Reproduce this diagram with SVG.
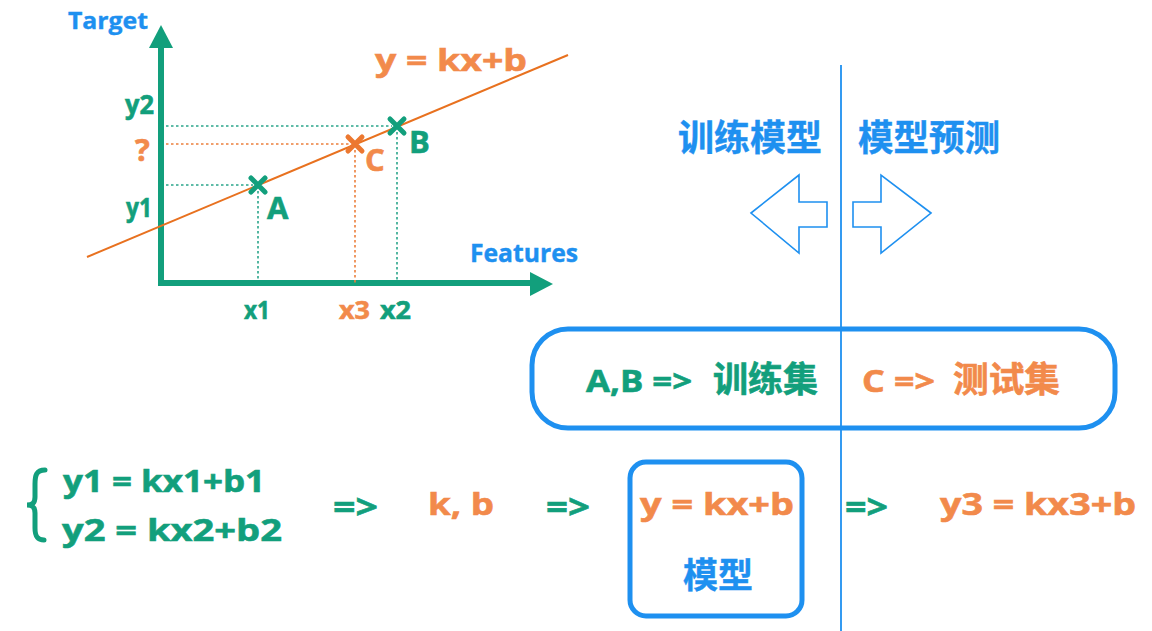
<svg xmlns="http://www.w3.org/2000/svg" width="1152" height="631" viewBox="0 0 1152 631">
<style>
.t{font-family:"Open Sans","Noto Sans CJK SC",sans-serif;font-weight:700}
.cjk{font-family:"Noto Sans CJK SC","Noto Sans",sans-serif;font-weight:700}
.g{fill:#129f7c;stroke:#129f7c;stroke-width:0.6}
.o{fill:#f28a4b;stroke:#f28a4b;stroke-width:0.6}
.b{fill:#1e90f0;stroke:#1e90f0;stroke-width:0.4}
.dg{stroke:#2aa58a;stroke-width:1.6;stroke-dasharray:2.5 2.5;fill:none}
.do{stroke:#ec7f3c;stroke-width:1.6;stroke-dasharray:2.5 2.5;fill:none}
.xg{stroke:#129f7c;stroke-width:5;stroke-linecap:round}
.xo{stroke:#ec7830;stroke-width:5;stroke-linecap:round}
.box{fill:none;stroke:#1e90f0;stroke-width:5}
.arr{fill:none;stroke:#1e90f0;stroke-width:1.6;stroke-linejoin:miter}
</style>
<rect width="1152" height="631" fill="#ffffff"/>

<g id="chart">
  <line x1="161" y1="286" x2="161" y2="45" stroke="#129f7c" stroke-width="6"/>
  <polygon points="161,25 173,48 149,48" fill="#129f7c"/>
  <line x1="158" y1="283" x2="532" y2="283" stroke="#129f7c" stroke-width="6"/>
  <polygon points="553,284 530,272 530,296" fill="#129f7c"/>
  <line x1="87" y1="257" x2="568" y2="55" stroke="#e8711f" stroke-width="2"/>
  <path class="dg" d="M166,126 H392 M166,185 H253 M258,191 V280 M397,132 V280"/>
  <path class="do" d="M166,144 H350 M355,150 V283"/>
  <path class="xg" d="M251,178 L265,192 M265,178 L251,192"/>
  <path class="xg" d="M390,119 L404,133 M404,119 L390,133"/>
  <path class="xo" d="M348,137 L362,151 M362,137 L348,151"/>
  <text class="t b" x="68" y="29" font-size="24" textLength="80" lengthAdjust="spacingAndGlyphs">Target</text>
  <text class="t b" x="470" y="262" font-size="25" textLength="108" lengthAdjust="spacingAndGlyphs">Features</text>
  <text class="t o" x="375" y="71" font-size="31" textLength="152" lengthAdjust="spacingAndGlyphs">y = kx+b</text>
  <text class="t g" x="125" y="114" font-size="26" textLength="29" lengthAdjust="spacingAndGlyphs">y2</text>
  <text class="t o" x="135" y="161" font-size="31">?</text>
  <text class="t g" x="126" y="217" font-size="26" textLength="26" lengthAdjust="spacingAndGlyphs">y1</text>
  <text class="t g" x="267" y="219" font-size="31">A</text>
  <text class="t g" x="409" y="153" font-size="31">B</text>
  <text class="t o" x="365" y="171" font-size="31">C</text>
  <text class="t g" x="244" y="319" font-size="25" textLength="26" lengthAdjust="spacingAndGlyphs">x1</text>
  <text class="t o" x="339" y="319" font-size="25" textLength="31" lengthAdjust="spacingAndGlyphs">x3</text>
  <text class="t g" x="380" y="319" font-size="25" textLength="31" lengthAdjust="spacingAndGlyphs">x2</text>
</g>

<g id="divider">
  <line x1="841" y1="65" x2="841" y2="631" stroke="#1e90f0" stroke-width="1.8"/>
</g>

<g id="train-label">
  <text class="cjk b" x="678" y="151" font-size="36" textLength="144" lengthAdjust="spacingAndGlyphs">训练模型</text>
  <polygon class="arr" points="751,213 799,175 799,202 827,202 827,227 799,227 799,253"/>
</g>
<g id="predict-label">
  <text class="cjk b" x="858" y="151" font-size="36" textLength="142" lengthAdjust="spacingAndGlyphs">模型预测</text>
  <polygon class="arr" points="931,213 881,175 881,202 853,202 853,227 881,227 881,253"/>
</g>

<g id="dataset-box">
  <rect class="box" x="532" y="329" width="583" height="99" rx="36"/>
  <text class="t g" font-size="31"><tspan x="586" y="392" textLength="106" lengthAdjust="spacingAndGlyphs">A,B =&gt;</tspan><tspan class="cjk" x="713" y="392" font-size="35" textLength="105" lengthAdjust="spacingAndGlyphs">训练集</tspan></text>
  <text class="t o" font-size="31"><tspan x="862" y="392" textLength="73" lengthAdjust="spacingAndGlyphs">C =&gt;</tspan><tspan class="cjk" x="953" y="392" font-size="35" textLength="107" lengthAdjust="spacingAndGlyphs">测试集</tspan></text>
</g>

<g id="equations">
  <path d="M45,470 C36,470 35,476 35,484 L35,497 C35,503 32,505 27,505 C32,505 35,507 35,513 L35,528 C35,536 37,540 44,540" fill="none" stroke="#129f7c" stroke-width="5" stroke-linecap="round"/>
  <text class="t g" x="63" y="492" font-size="31" textLength="202" lengthAdjust="spacingAndGlyphs">y1 = kx1+b1</text>
  <text class="t g" x="62" y="541" font-size="31" textLength="220" lengthAdjust="spacingAndGlyphs">y2 = kx2+b2</text>
</g>

<g id="kb">
  <text class="t o" x="428" y="515" font-size="31" textLength="66" lengthAdjust="spacingAndGlyphs">k, b</text>
</g>

<g id="model-box">
  <rect class="box" x="630" y="462" width="172" height="154" rx="16"/>
  <text class="t o" x="640" y="515" font-size="31" textLength="154" lengthAdjust="spacingAndGlyphs">y = kx+b</text>
  <text class="cjk b" x="683" y="588" font-size="35" textLength="70" lengthAdjust="spacingAndGlyphs">模型</text>
</g>

<g id="result">
  <text class="t o" x="940" y="515" font-size="31" textLength="196" lengthAdjust="spacingAndGlyphs">y3 = kx3+b</text>
</g>

<g id="connectors">
  <text class="t g" x="333" y="519" font-size="34" textLength="45" lengthAdjust="spacingAndGlyphs">=&gt;</text>
  <text class="t g" x="546" y="519" font-size="34" textLength="44" lengthAdjust="spacingAndGlyphs">=&gt;</text>
  <text class="t g" x="845" y="519" font-size="34" textLength="43" lengthAdjust="spacingAndGlyphs">=&gt;</text>
</g>
</svg>
